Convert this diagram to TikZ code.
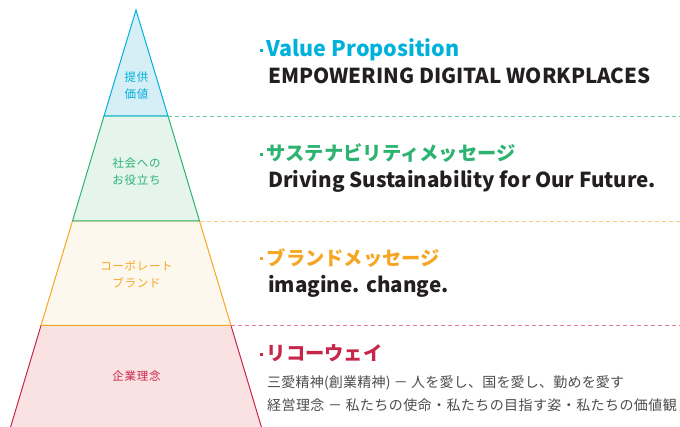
\documentclass[tikz,border=0pt]{standalone}
\usepackage{fontspec}
\setmainfont{Noto Sans CJK JP}
\begin{document}
\definecolor{cyanC}{HTML}{00B1DB}
\definecolor{cyanF}{HTML}{D6EEF6}
\definecolor{greenC}{HTML}{2BB36F}
\definecolor{greenF}{HTML}{E5F4EC}
\definecolor{orangeC}{HTML}{F5A623}
\definecolor{orangeF}{HTML}{FDF8EE}
\definecolor{redC}{HTML}{C7264B}
\definecolor{redF}{HTML}{FAE2E2}
\definecolor{inkC}{HTML}{231F20}
\definecolor{greyC}{HTML}{4D4D4D}
\begin{tikzpicture}[x=1pt,y=-1pt,
  layer/.style={line width=1pt},
  guide/.style={dashed,dash pattern=on 4pt off 3pt,line width=0.6pt},
  tierlabel/.style={font=\fontsize{11.5}{17}\selectfont\addfontfeature{LetterSpace=6},align=center},
  head/.style={anchor=base west,inner sep=0,font=\fontsize{19.3}{20}\selectfont\bfseries},
  sub/.style={anchor=base west,inner sep=0,font=\fontsize{20.6}{22}\selectfont\bfseries,text=inkC},
  body/.style={anchor=base west,inner sep=0,font=\fontsize{14}{16}\selectfont\addfontfeature{LetterSpace=#1},text=greyC},
  dot/.style={minimum size=3pt,inner sep=0,fill=#1}]
\useasboundingbox (0,0) rectangle (680,427);
% pyramid corner points
\coordinate (apex) at (136,10);
\coordinate (l1) at (104,116); \coordinate (r1) at (168,116);
\coordinate (l2) at (72.5,221); \coordinate (r2) at (199.5,221);
\coordinate (l3) at (41,325.5); \coordinate (r3) at (231,325.5);
\coordinate (l4) at (10,429); \coordinate (r4) at (262,429);
% tiers
\filldraw[layer,fill=redF,draw=redC] (l3) -- (l4) -- (r4) -- (r3) -- cycle;
\filldraw[layer,fill=orangeF,draw=orangeC] (l2) -- (l3) -- (r3) -- (r2) -- cycle;
\filldraw[layer,fill=greenF,draw=greenC] (l1) -- (l2) -- (r2) -- (r1) -- cycle;
\filldraw[layer,fill=cyanF,draw=cyanC] (apex) -- (l1) -- (r1) -- cycle;
% guide lines
\coordinate (e1) at (680,116); \coordinate (e2) at (680,221); \coordinate (e3) at (680,325.5);
\draw[guide,draw=greenC!70] (r1) -- (e1);
\draw[guide,draw=orangeC!60] (r2) -- (e2);
\draw[guide,draw=redC!60] (r3) -- (e3);
% tier labels
\node[tierlabel,text=cyanC] (t1) at (136.5,86) {提供\\価値};
\node[tierlabel,text=greenC] (t2) at (136.5,172) {社会への\\お役立ち};
\node[tierlabel,text=orangeC] (t3) at (136.5,274.5) {コーポレート\\ブランド};
\node[tierlabel,text=redC] (t4) at (136.5,376) {企業理念};
% headings
\node[dot=cyanC] (b1) at (261.5,51) {};
\node[head,text=cyanC,font=\fontsize{21.5}{22}\selectfont\bfseries] (h1) at (266.5,57) {Value Proposition};
\node[sub] (s1) at (268,83.5) {EMPOWERING DIGITAL WORKPLACES};
\node[dot=greenC] (b2) at (261.5,155) {};
\node[head,text=greenC] (h2) at (266.5,161) {サステナビリティメッセージ};
\node[sub] (s2) at (268,188) {Driving Sustainability for Our Future.};
\node[dot=orangeC] (b3) at (261.5,259) {};
\node[head,text=orangeC] (h3) at (266.5,265.5) {ブランドメッセージ};
\node[sub] (s3) at (268,293) {imagine. change.};
\node[dot=redC] (b4) at (261.5,354.5) {};
\node[head,text=redC] (h4) at (266.5,361) {リコーウェイ};
\node[body=1.5] (p1) at (267,387.5) {三愛精神(創業精神) － 人を愛し、国を愛し、勤めを愛す};
\node[body=3] (p2) at (267,410) {経営理念 － 私たちの使命・私たちの目指す姿・私たちの価値観};
\end{tikzpicture}
\end{document}
